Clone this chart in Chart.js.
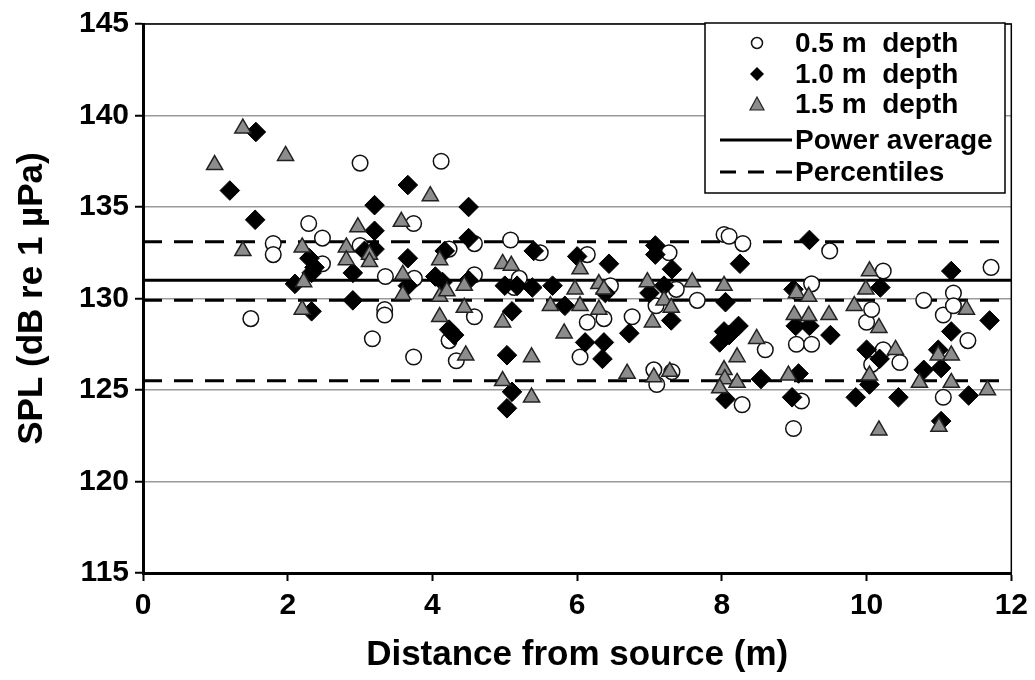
<!DOCTYPE html>
<html>
<head>
<meta charset="utf-8">
<script src="https://cdn.jsdelivr.net/npm/chart.js@4.4.1/dist/chart.umd.min.js"></script>
<style>
  html, body { margin: 0; padding: 0; background: #fff; }
  #wrap { width: 1035px; height: 680px; }
</style>
</head>
<body>
<div id="wrap"><canvas id="myChart" width="1035" height="680"></canvas></div>
<script>
// distance (m) and SPL (dB re 1 µPa)
var d05x = [1.49, 1.8, 1.8, 2.29, 2.48, 2.48, 3.0, 3.0, 3.17, 3.34, 3.34, 3.35, 3.74, 3.75, 3.74, 4.12, 4.23, 4.23, 4.33, 4.58, 4.58, 4.58,
            5.08, 5.13, 5.2, 5.49, 6.04, 6.14, 6.14, 6.37, 6.46, 6.76, 7.06, 7.09, 7.1, 7.27, 7.31, 7.37, 7.66,
            8.03, 8.1, 8.29, 8.6, 8.28, 8.99, 9.03, 9.1, 9.24, 9.24, 9.49, 10.0, 10.07, 10.07, 10.23, 10.23, 10.46,
            10.79, 11.06, 11.06, 11.2, 11.2, 11.4, 11.72];
var d05y = [128.9, 133.0, 132.4, 134.1, 133.3, 131.9, 137.4, 132.9, 127.8, 129.4, 129.1, 131.2, 134.1, 131.1, 126.8, 137.5, 132.7, 127.7, 126.6, 133.0, 131.3, 129.0,
            133.2, 130.6, 131.1, 132.5, 126.8, 132.4, 128.7, 128.9, 130.7, 129.0, 126.1, 129.6, 125.3, 132.5, 126.0, 130.5, 129.9,
            133.5, 133.4, 133.0, 127.2, 124.2, 122.9, 127.5, 124.4, 127.5, 130.8, 132.6, 128.7, 129.4, 126.4, 131.5, 127.2, 126.5,
            129.9, 129.1, 124.6, 130.3, 129.6, 127.7, 131.7];

var d10x = [1.2, 1.56, 1.55, 2.1, 2.3, 2.37, 2.33, 2.33, 2.9, 2.9, 3.06, 3.2, 3.2, 3.2, 3.66, 3.66, 3.66, 4.04, 4.14, 4.17, 4.23, 4.3,
            4.5, 4.5, 4.5, 5.0, 5.17, 5.38, 5.1, 5.03, 5.1, 5.03, 5.4, 5.66, 5.83, 6.0, 6.11, 6.35, 6.37, 6.39, 6.44, 6.72,
            7.0, 7.08, 7.08, 7.2, 7.3, 7.31, 7.97, 8.03, 8.1, 8.23, 8.05, 8.25, 8.05, 8.54, 8.97, 9.06, 8.99, 9.02, 9.21, 9.21,
            9.5, 9.85, 10.0, 10.04, 10.18, 10.19, 10.44, 10.79, 10.99, 11.03, 11.03, 11.17, 11.17, 11.41, 11.7];
var d10y = [135.9, 139.1, 134.3, 130.8, 132.2, 131.7, 131.4, 129.3, 131.4, 129.9, 132.6, 135.1, 133.7, 132.7, 136.2, 132.2, 130.7, 131.2, 130.9, 132.6, 128.3, 128.0,
            135.0, 133.3, 131.0, 130.7, 130.7, 130.6, 129.3, 126.9, 124.9, 124.0, 132.6, 130.7, 129.6, 132.3, 127.6, 126.7, 127.6, 130.3, 131.9, 128.1,
            130.3, 132.9, 132.4, 130.7, 128.8, 131.6, 127.6, 128.2, 128.0, 128.5, 129.8, 131.9, 124.5, 125.6, 124.6, 125.9, 130.5, 128.5, 128.5, 133.2,
            128.0, 124.6, 127.2, 125.3, 126.7, 130.6, 124.6, 126.1, 127.2, 126.2, 123.3, 131.5, 128.2, 124.7, 128.8];

var d15x = [0.99, 1.38, 1.38, 1.97, 2.2, 2.22, 2.2, 2.81, 2.81, 2.97, 3.13, 3.13, 3.57, 3.59, 3.59, 3.97, 4.1, 4.1, 4.1, 4.2, 4.44, 4.44, 4.46,
            4.97, 4.97, 4.97, 5.09, 5.37, 5.37, 5.63, 5.82, 5.97, 6.04, 6.04, 6.3, 6.3, 6.37, 6.69, 6.97, 7.04, 7.06, 7.2, 7.28, 7.3, 7.59,
            8.03, 8.03, 8.04, 7.97, 8.21, 8.21, 8.48, 8.92, 9.03, 9.2, 9.0, 9.2, 9.48, 9.83, 9.99, 10.04, 10.04, 10.17, 10.17, 10.4,
            10.73, 10.99, 11.0, 11.17, 11.17, 11.38, 11.67];
var d15y = [137.3, 139.3, 132.6, 137.8, 132.8, 130.9, 129.4, 132.8, 132.1, 133.9, 132.4, 132.0, 134.2, 131.3, 130.2, 135.6, 132.1, 130.1, 129.0, 130.4, 130.7, 129.5, 126.9,
            131.9, 128.7, 125.5, 131.8, 126.8, 124.6, 129.6, 128.1, 130.5, 131.6, 129.6, 130.8, 129.4, 130.5, 125.9, 130.9, 128.7, 125.7, 129.9, 126.0, 129.5, 130.9,
            130.7, 126.1, 125.6, 125.1, 125.4, 126.8, 127.8, 125.8, 130.3, 130.1, 129.1, 129.05, 129.1, 129.6, 130.5, 131.5, 125.8, 128.4, 122.8, 127.2,
            125.4, 126.9, 123.0, 126.9, 125.4, 129.4, 125.0];

var powerAverage = 131.0;
var percentiles = [133.1, 129.9, 125.5];
var xRange = [0, 12];
var yRange = [115, 145];
var seriesLabels = ["0.5 m  depth", "1.0 m  depth", "1.5 m  depth"];

function pts(xs, ys) {
    var out = [];
    for (var i = 0; i < xs.length; i++) out.push({x: xs[i], y: ys[i]});
    return out;
}
function hline(v) {
    return [{x: xRange[0], y: v}, {x: xRange[1], y: v}];
}

var FONT = "'Liberation Sans', Arial, sans-serif";

var datasets = [
    {
        label: seriesLabels[0], data: pts(d05x, d05y), order: 3,
        pointStyle: "circle", pointRadius: 7.8, pointBorderWidth: 1.5,
        pointBackgroundColor: "#fff", pointBorderColor: "#111"
    },
    {
        label: seriesLabels[1], data: pts(d10x, d10y), order: 2,
        pointStyle: "rectRot", pointRadius: 9.8, pointBorderWidth: 1,
        pointBackgroundColor: "#000", pointBorderColor: "#000"
    },
    {
        label: seriesLabels[2], data: pts(d15x, d15y), order: 1,
        pointStyle: "triangle", pointRadius: 9.3, pointBorderWidth: 1.5,
        pointBackgroundColor: "#8c8c8c", pointBorderColor: "#222"
    },
    {
        label: "Power average", data: hline(powerAverage), showLine: true, order: 5,
        borderColor: "#000", borderWidth: 3, pointRadius: 0
    }
];
percentiles.forEach(function (p) {
    datasets.push({
        label: "Percentiles", data: hline(p), showLine: true, order: 5,
        borderColor: "#000", borderWidth: 3, borderDash: [19, 12], pointRadius: 0
    });
});

// legend drawn as a box inside the plot, top-right
var boxLegend = {
    id: "boxLegend",
    afterDraw: function (chart) {
        var c = chart.ctx, a = chart.chartArea;
        // plot frame
        c.save();
        c.strokeStyle = "#000";
        c.lineWidth = 1.5;
        c.beginPath();
        c.moveTo(a.left, a.top); c.lineTo(a.right, a.top); c.lineTo(a.right, a.bottom);
        c.stroke();

        var x0 = 705, y0 = 23, w = 300, h = 170;
        c.fillStyle = "#fff";
        c.fillRect(x0, y0, w, h);
        c.lineWidth = 1.5;
        c.strokeRect(x0, y0, w, h);

        c.font = "bold 28px " + FONT;
        c.textBaseline = "middle";
        c.fillStyle = "#000";
        var rows = [43, 74, 104, 140, 172];
        var tx = 795;
        var mx = 757;
        // circle
        c.beginPath();
        c.arc(mx, rows[0], 5.5, 0, Math.PI * 2);
        c.fillStyle = "#fff"; c.fill();
        c.lineWidth = 1.5; c.strokeStyle = "#111"; c.stroke();
        // diamond
        c.beginPath();
        c.moveTo(mx, rows[1] - 7); c.lineTo(mx + 7, rows[1]); c.lineTo(mx, rows[1] + 7); c.lineTo(mx - 7, rows[1]);
        c.closePath(); c.fillStyle = "#000"; c.fill();
        // triangle
        c.beginPath();
        c.moveTo(mx, rows[2] - 7); c.lineTo(mx + 7, rows[2] + 6); c.lineTo(mx - 7, rows[2] + 6);
        c.closePath(); c.fillStyle = "#8c8c8c"; c.fill(); c.lineWidth = 1.2; c.strokeStyle = "#222"; c.stroke();
        // lines
        c.strokeStyle = "#000"; c.lineWidth = 3;
        c.beginPath(); c.moveTo(720, rows[3]); c.lineTo(792, rows[3]); c.stroke();
        c.setLineDash([16, 12]);
        c.beginPath(); c.moveTo(720, rows[4]); c.lineTo(792, rows[4]); c.stroke();
        c.setLineDash([]);

        c.fillStyle = "#000";
        var labels = seriesLabels.concat(["Power average", "Percentiles"]);
        for (var i = 0; i < labels.length; i++) c.fillText(labels[i], tx, rows[i] + 1);
        c.restore();
    }
};

var ctx = document.getElementById("myChart");
var myChart = new Chart(ctx, {
    type: "scatter",
    data: { datasets: datasets },
    options: {
        responsive: false,
        animation: false,
        layout: { padding: { top: 18, right: 22, left: 0, bottom: 0 } },
        plugins: { legend: { display: false }, tooltip: { enabled: false } },
        scales: {
            x: {
                min: xRange[0], max: xRange[1],
                afterFit: function (s) { s.height = 107; },
                ticks: { stepSize: 2, color: "#000", padding: 7, font: { family: FONT, size: 30, weight: "bold" } },
                grid: { drawOnChartArea: false, tickLength: 8, tickColor: "#000", tickWidth: 2 },
                border: { color: "#000", width: 3 },
                title: { display: true, text: "Distance from source (m)", color: "#000",
                         padding: { top: 0, bottom: 4 }, font: { family: FONT, size: 35, weight: "bold" } }
            },
            y: {
                min: yRange[0], max: yRange[1],
                afterFit: function (s) { s.width = 143; },
                ticks: { stepSize: 5, color: "#000", padding: 6, font: { family: FONT, size: 30, weight: "bold" } },
                grid: { color: "#9a9a9a", lineWidth: 1.5, tickLength: 8, tickColor: "#000", tickWidth: 2 },
                border: { color: "#000", width: 3 },
                title: { display: true, text: "SPL (dB re 1 µPa)", color: "#000",
                         padding: { top: 11, bottom: 0 }, font: { family: FONT, size: 35, weight: "bold" } }
            }
        }
    },
    plugins: [boxLegend]
});
</script>
</body>
</html>
